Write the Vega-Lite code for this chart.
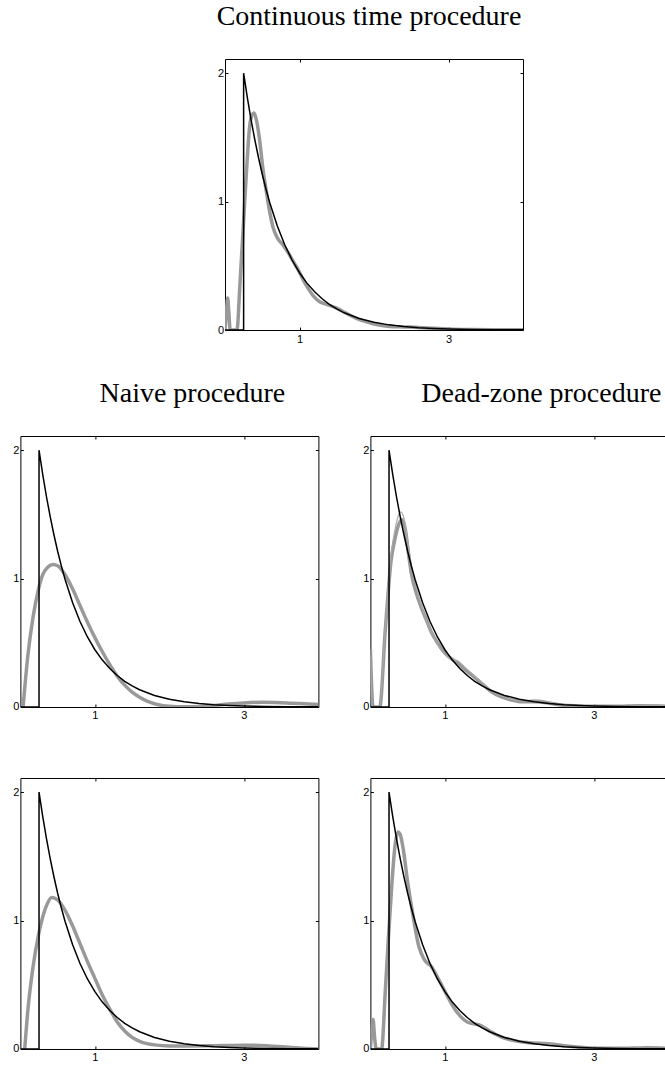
{
  "$schema": "https://vega.github.io/schema/vega-lite/v6.json",
  "background": "white",
  "padding": {"left": 11.4, "top": 2, "right": 0, "bottom": 0},
  "config": {
    "view": {"stroke": "#000", "strokeWidth": 1},
    "axis": {"grid": false, "domain": false, "ticks": true, "tickSize": -3, "tickColor": "#000", "tickWidth": 1, "labelFont": "Liberation Sans", "labelFontSize": 11, "labelColor": "#000", "format": "d"},
    "title": {"font": "Liberation Serif", "fontSize": 28, "fontWeight": "normal", "color": "#000", "frame": "group", "anchor": "middle", "baseline": "alphabetic", "offset": 28}
  },
  "datasets": {
    "black": [
      {"i": 0, "x": 0, "y": 0}, {"i": 1, "x": 0.25, "y": 0}, {"i": 2, "x": 0.25, "y": 2},
      {"i": 3, "x": 0.3, "y": 1.81}, {"i": 4, "x": 0.35, "y": 1.637}, {"i": 5, "x": 0.4, "y": 1.482},
      {"i": 6, "x": 0.45, "y": 1.341}, {"i": 7, "x": 0.5, "y": 1.213}, {"i": 8, "x": 0.55, "y": 1.098},
      {"i": 9, "x": 0.6, "y": 0.993}, {"i": 10, "x": 0.7, "y": 0.813}, {"i": 11, "x": 0.8, "y": 0.666},
      {"i": 12, "x": 0.9, "y": 0.545}, {"i": 13, "x": 1.0, "y": 0.446}, {"i": 14, "x": 1.1, "y": 0.365},
      {"i": 15, "x": 1.2, "y": 0.299}, {"i": 16, "x": 1.3, "y": 0.245}, {"i": 17, "x": 1.4, "y": 0.2},
      {"i": 18, "x": 1.5, "y": 0.164}, {"i": 19, "x": 1.6, "y": 0.134}, {"i": 20, "x": 1.8, "y": 0.09},
      {"i": 21, "x": 2.0, "y": 0.06}, {"i": 22, "x": 2.2, "y": 0.04}, {"i": 23, "x": 2.4, "y": 0.027},
      {"i": 24, "x": 2.6, "y": 0.018}, {"i": 25, "x": 2.8, "y": 0.012}, {"i": 26, "x": 3.0, "y": 0.008},
      {"i": 27, "x": 3.3, "y": 0.004}, {"i": 28, "x": 3.6, "y": 0.002}, {"i": 29, "x": 4.0, "y": 0.001}
    ],
    "gray": [
      {"p": "top", "x": 0, "y": 0}, {"p": "top", "x": 0.02, "y": 0.15}, {"p": "top", "x": 0.036, "y": 0.25}, {"p": "top", "x": 0.05, "y": 0.15}, {"p": "top", "x": 0.07, "y": 0}, {"p": "top", "x": 0.16, "y": 0}, {"p": "top", "x": 0.2, "y": 0.35}, {"p": "top", "x": 0.23, "y": 0.65}, {"p": "top", "x": 0.26, "y": 0.95}, {"p": "top", "x": 0.29, "y": 1.25}, {"p": "top", "x": 0.33, "y": 1.58}, {"p": "top", "x": 0.36, "y": 1.67}, {"p": "top", "x": 0.39, "y": 1.69}, {"p": "top", "x": 0.42, "y": 1.64}, {"p": "top", "x": 0.46, "y": 1.5}, {"p": "top", "x": 0.51, "y": 1.25}, {"p": "top", "x": 0.56, "y": 1.06}, {"p": "top", "x": 0.6, "y": 0.92}, {"p": "top", "x": 0.65, "y": 0.79}, {"p": "top", "x": 0.7, "y": 0.72}, {"p": "top", "x": 0.78, "y": 0.66}, {"p": "top", "x": 0.85, "y": 0.6}, {"p": "top", "x": 0.92, "y": 0.53}, {"p": "top", "x": 1.0, "y": 0.45}, {"p": "top", "x": 1.05, "y": 0.39}, {"p": "top", "x": 1.12, "y": 0.32}, {"p": "top", "x": 1.18, "y": 0.27}, {"p": "top", "x": 1.27, "y": 0.22}, {"p": "top", "x": 1.36, "y": 0.2}, {"p": "top", "x": 1.5, "y": 0.17}, {"p": "top", "x": 1.63, "y": 0.13}, {"p": "top", "x": 1.75, "y": 0.095}, {"p": "top", "x": 1.89, "y": 0.065}, {"p": "top", "x": 2.05, "y": 0.04}, {"p": "top", "x": 2.21, "y": 0.028}, {"p": "top", "x": 2.4, "y": 0.024}, {"p": "top", "x": 2.6, "y": 0.02}, {"p": "top", "x": 2.8, "y": 0.013}, {"p": "top", "x": 3.0, "y": 0.008}, {"p": "top", "x": 3.3, "y": 0.004}, {"p": "top", "x": 3.6, "y": 0.002}, {"p": "top", "x": 4.0, "y": 0.001},

      {"p": "naive1", "x": 0.036, "y": 0}, {"p": "naive1", "x": 0.1, "y": 0.4}, {"p": "naive1", "x": 0.17, "y": 0.7}, {"p": "naive1", "x": 0.24, "y": 0.91}, {"p": "naive1", "x": 0.3, "y": 1.03}, {"p": "naive1", "x": 0.37, "y": 1.09}, {"p": "naive1", "x": 0.44, "y": 1.11}, {"p": "naive1", "x": 0.5, "y": 1.1}, {"p": "naive1", "x": 0.6, "y": 1.03}, {"p": "naive1", "x": 0.7, "y": 0.92}, {"p": "naive1", "x": 0.8, "y": 0.79}, {"p": "naive1", "x": 0.9, "y": 0.66}, {"p": "naive1", "x": 1.0, "y": 0.54}, {"p": "naive1", "x": 1.1, "y": 0.43}, {"p": "naive1", "x": 1.2, "y": 0.33}, {"p": "naive1", "x": 1.3, "y": 0.24}, {"p": "naive1", "x": 1.4, "y": 0.17}, {"p": "naive1", "x": 1.5, "y": 0.115}, {"p": "naive1", "x": 1.6, "y": 0.075}, {"p": "naive1", "x": 1.7, "y": 0.045}, {"p": "naive1", "x": 1.8, "y": 0.025}, {"p": "naive1", "x": 1.9, "y": 0.012}, {"p": "naive1", "x": 2.0, "y": 0.005}, {"p": "naive1", "x": 2.2, "y": 0.001}, {"p": "naive1", "x": 2.4, "y": 0.003}, {"p": "naive1", "x": 2.6, "y": 0.012}, {"p": "naive1", "x": 2.8, "y": 0.024}, {"p": "naive1", "x": 3.0, "y": 0.032}, {"p": "naive1", "x": 3.25, "y": 0.037}, {"p": "naive1", "x": 3.5, "y": 0.034}, {"p": "naive1", "x": 3.75, "y": 0.027}, {"p": "naive1", "x": 4.0, "y": 0.02},

      {"p": "dead1", "x": 0, "y": 0.45}, {"p": "dead1", "x": 0.036, "y": 0}, {"p": "dead1", "x": 0.125, "y": 0}, {"p": "dead1", "x": 0.2, "y": 0.6}, {"p": "dead1", "x": 0.28, "y": 1.15}, {"p": "dead1", "x": 0.33, "y": 1.31}, {"p": "dead1", "x": 0.38, "y": 1.42}, {"p": "dead1", "x": 0.42, "y": 1.46}, {"p": "dead1", "x": 0.47, "y": 1.38}, {"p": "dead1", "x": 0.51, "y": 1.2}, {"p": "dead1", "x": 0.55, "y": 1.04}, {"p": "dead1", "x": 0.62, "y": 0.88}, {"p": "dead1", "x": 0.68, "y": 0.78}, {"p": "dead1", "x": 0.75, "y": 0.68}, {"p": "dead1", "x": 0.82, "y": 0.58}, {"p": "dead1", "x": 0.9, "y": 0.5}, {"p": "dead1", "x": 1.0, "y": 0.42}, {"p": "dead1", "x": 1.1, "y": 0.37}, {"p": "dead1", "x": 1.18, "y": 0.34}, {"p": "dead1", "x": 1.27, "y": 0.29}, {"p": "dead1", "x": 1.36, "y": 0.25}, {"p": "dead1", "x": 1.5, "y": 0.18}, {"p": "dead1", "x": 1.62, "y": 0.12}, {"p": "dead1", "x": 1.75, "y": 0.08}, {"p": "dead1", "x": 1.89, "y": 0.055}, {"p": "dead1", "x": 2.05, "y": 0.04}, {"p": "dead1", "x": 2.2, "y": 0.04}, {"p": "dead1", "x": 2.4, "y": 0.03}, {"p": "dead1", "x": 2.56, "y": 0.015}, {"p": "dead1", "x": 2.8, "y": 0.008}, {"p": "dead1", "x": 3.0, "y": 0.005}, {"p": "dead1", "x": 3.3, "y": 0.005}, {"p": "dead1", "x": 3.6, "y": 0.01}, {"p": "dead1", "x": 3.9, "y": 0.008}, {"p": "dead1", "x": 4.0, "y": 0.005},

      {"p": "dead1b", "x": 0, "y": 0.4}, {"p": "dead1b", "x": 0.03, "y": 0}, {"p": "dead1b", "x": 0.12, "y": 0}, {"p": "dead1b", "x": 0.2, "y": 0.62}, {"p": "dead1b", "x": 0.28, "y": 1.2}, {"p": "dead1b", "x": 0.33, "y": 1.38}, {"p": "dead1b", "x": 0.37, "y": 1.48}, {"p": "dead1b", "x": 0.41, "y": 1.52}, {"p": "dead1b", "x": 0.45, "y": 1.47}, {"p": "dead1b", "x": 0.5, "y": 1.3}, {"p": "dead1b", "x": 0.55, "y": 1.1}, {"p": "dead1b", "x": 0.62, "y": 0.92}, {"p": "dead1b", "x": 0.7, "y": 0.76}, {"p": "dead1b", "x": 0.8, "y": 0.6}, {"p": "dead1b", "x": 0.9, "y": 0.49}, {"p": "dead1b", "x": 1.0, "y": 0.41}, {"p": "dead1b", "x": 1.1, "y": 0.37}, {"p": "dead1b", "x": 1.17, "y": 0.36}, {"p": "dead1b", "x": 1.25, "y": 0.32}, {"p": "dead1b", "x": 1.36, "y": 0.26}, {"p": "dead1b", "x": 1.5, "y": 0.19}, {"p": "dead1b", "x": 1.62, "y": 0.13}, {"p": "dead1b", "x": 1.75, "y": 0.09}, {"p": "dead1b", "x": 1.9, "y": 0.06}, {"p": "dead1b", "x": 2.05, "y": 0.05}, {"p": "dead1b", "x": 2.2, "y": 0.055}, {"p": "dead1b", "x": 2.4, "y": 0.04}, {"p": "dead1b", "x": 2.6, "y": 0.015}, {"p": "dead1b", "x": 2.8, "y": 0.006}, {"p": "dead1b", "x": 3.0, "y": 0.004}, {"p": "dead1b", "x": 3.4, "y": 0.006}, {"p": "dead1b", "x": 3.7, "y": 0.012}, {"p": "dead1b", "x": 4.0, "y": 0.008},

      {"p": "naive2", "x": 0.058, "y": 0}, {"p": "naive2", "x": 0.1, "y": 0.3}, {"p": "naive2", "x": 0.17, "y": 0.64}, {"p": "naive2", "x": 0.24, "y": 0.88}, {"p": "naive2", "x": 0.3, "y": 1.03}, {"p": "naive2", "x": 0.36, "y": 1.13}, {"p": "naive2", "x": 0.42, "y": 1.18}, {"p": "naive2", "x": 0.5, "y": 1.16}, {"p": "naive2", "x": 0.6, "y": 1.08}, {"p": "naive2", "x": 0.7, "y": 0.96}, {"p": "naive2", "x": 0.8, "y": 0.82}, {"p": "naive2", "x": 0.9, "y": 0.68}, {"p": "naive2", "x": 1.0, "y": 0.55}, {"p": "naive2", "x": 1.1, "y": 0.42}, {"p": "naive2", "x": 1.2, "y": 0.31}, {"p": "naive2", "x": 1.3, "y": 0.21}, {"p": "naive2", "x": 1.4, "y": 0.14}, {"p": "naive2", "x": 1.5, "y": 0.09}, {"p": "naive2", "x": 1.6, "y": 0.06}, {"p": "naive2", "x": 1.7, "y": 0.042}, {"p": "naive2", "x": 1.8, "y": 0.032}, {"p": "naive2", "x": 2.0, "y": 0.024}, {"p": "naive2", "x": 2.5, "y": 0.025}, {"p": "naive2", "x": 3.0, "y": 0.03}, {"p": "naive2", "x": 3.3, "y": 0.026}, {"p": "naive2", "x": 3.6, "y": 0.014}, {"p": "naive2", "x": 3.85, "y": 0.003}, {"p": "naive2", "x": 4.0, "y": 0},

      {"p": "dead2", "x": 0, "y": 0}, {"p": "dead2", "x": 0.02, "y": 0.15}, {"p": "dead2", "x": 0.036, "y": 0.23}, {"p": "dead2", "x": 0.055, "y": 0.1}, {"p": "dead2", "x": 0.08, "y": 0}, {"p": "dead2", "x": 0.15, "y": 0}, {"p": "dead2", "x": 0.2, "y": 0.45}, {"p": "dead2", "x": 0.24, "y": 0.85}, {"p": "dead2", "x": 0.29, "y": 1.3}, {"p": "dead2", "x": 0.33, "y": 1.58}, {"p": "dead2", "x": 0.37, "y": 1.69}, {"p": "dead2", "x": 0.4, "y": 1.67}, {"p": "dead2", "x": 0.44, "y": 1.56}, {"p": "dead2", "x": 0.5, "y": 1.3}, {"p": "dead2", "x": 0.56, "y": 1.08}, {"p": "dead2", "x": 0.65, "y": 0.8}, {"p": "dead2", "x": 0.72, "y": 0.7}, {"p": "dead2", "x": 0.82, "y": 0.64}, {"p": "dead2", "x": 0.9, "y": 0.56}, {"p": "dead2", "x": 1.0, "y": 0.45}, {"p": "dead2", "x": 1.1, "y": 0.34}, {"p": "dead2", "x": 1.2, "y": 0.26}, {"p": "dead2", "x": 1.3, "y": 0.21}, {"p": "dead2", "x": 1.49, "y": 0.18}, {"p": "dead2", "x": 1.6, "y": 0.14}, {"p": "dead2", "x": 1.75, "y": 0.095}, {"p": "dead2", "x": 1.93, "y": 0.065}, {"p": "dead2", "x": 2.1, "y": 0.05}, {"p": "dead2", "x": 2.39, "y": 0.04}, {"p": "dead2", "x": 2.7, "y": 0.02}, {"p": "dead2", "x": 3.05, "y": 0.005}, {"p": "dead2", "x": 3.4, "y": 0.006}, {"p": "dead2", "x": 3.72, "y": 0.01}, {"p": "dead2", "x": 4.0, "y": 0.005}
    ]
  },
  "spacing": 55,
  "vconcat": [
    {
      "spacing": 34,
      "vconcat": [
        {
          "bounds": "flush",
          "spacing": 203.6,
          "hconcat": [
            {"width": 1, "height": 271, "view": {"stroke": null}, "data": {"values": []}, "mark": "text", "encoding": {}},
            {
              "width": 298, "height": 271,
              "title": {"text": "Continuous time procedure", "dx": -5},
              "resolve": {"axis": {"x": "independent", "y": "independent"}},
              "layer": [
                {"data": {"name": "gray"}, "transform": [{"filter": "datum.p == 'top'"}],
                 "mark": {"type": "line", "color": "#999999", "strokeWidth": 3.5, "interpolate": "monotone", "clip": true},
                 "encoding": {
                   "x": {"field": "x", "type": "quantitative", "title": null, "scale": {"domain": [0, 4], "nice": false, "zero": false}, "axis": {"values": [1, 3], "labelPadding": 6}},
                   "y": {"field": "y", "type": "quantitative", "title": null, "scale": {"domain": [0, 2.11], "nice": false}, "axis": {"values": [0, 1, 2], "labelPadding": 4.5}}}},
                {"data": {"name": "black"},
                 "mark": {"type": "line", "color": "#000", "strokeWidth": 1.5, "clip": true},
                 "encoding": {
                   "x": {"field": "x", "type": "quantitative", "title": null, "axis": {"orient": "top", "values": [1, 3], "labels": false}},
                   "y": {"field": "y", "type": "quantitative", "title": null, "axis": {"orient": "right", "values": [0, 1, 2], "labels": false}},
                   "order": {"field": "i"}}}
              ]
            }
          ]
        },
        {
          "bounds": "flush",
          "spacing": 52,
          "hconcat": [
            {
              "width": 298, "height": 271,
              "title": {"text": "Naive procedure", "dx": 23},
              "resolve": {"axis": {"x": "independent", "y": "independent"}},
              "layer": [
                {"data": {"name": "gray"}, "transform": [{"filter": "datum.p == 'naive1'"}],
                 "mark": {"type": "line", "color": "#999999", "strokeWidth": 3.5, "interpolate": "monotone", "clip": true},
                 "encoding": {
                   "x": {"field": "x", "type": "quantitative", "title": null, "scale": {"domain": [0, 4], "nice": false, "zero": false}, "axis": {"values": [1, 3], "labelPadding": 6}},
                   "y": {"field": "y", "type": "quantitative", "title": null, "scale": {"domain": [0, 2.11], "nice": false}, "axis": {"values": [0, 1, 2], "labelPadding": 4.5}}}},
                {"data": {"name": "black"},
                 "mark": {"type": "line", "color": "#000", "strokeWidth": 1.5, "clip": true},
                 "encoding": {
                   "x": {"field": "x", "type": "quantitative", "title": null, "axis": {"orient": "top", "values": [1, 3], "labels": false}},
                   "y": {"field": "y", "type": "quantitative", "title": null, "axis": {"orient": "right", "values": [0, 1, 2], "labels": false}},
                   "order": {"field": "i"}}}
              ]
            },
            {
              "width": 298, "height": 271,
              "title": {"text": "Dead-zone procedure", "dx": 22},
              "resolve": {"axis": {"x": "independent", "y": "independent"}},
              "layer": [
                {"data": {"name": "gray"}, "transform": [{"filter": "datum.p == 'dead1'"}],
                 "mark": {"type": "line", "color": "#999999", "strokeWidth": 3.5, "interpolate": "monotone", "clip": true},
                 "encoding": {
                   "x": {"field": "x", "type": "quantitative", "title": null, "scale": {"domain": [0, 4], "nice": false, "zero": false}, "axis": {"values": [1, 3], "labelPadding": 6}},
                   "y": {"field": "y", "type": "quantitative", "title": null, "scale": {"domain": [0, 2.11], "nice": false}, "axis": {"values": [0, 1, 2], "labelPadding": 4.5}}}},
                {"data": {"name": "gray"}, "transform": [{"filter": "datum.p == 'dead1b'"}],
                 "mark": {"type": "line", "color": "#a8a8a8", "strokeWidth": 1.2, "interpolate": "monotone", "clip": true},
                 "encoding": {
                   "x": {"field": "x", "type": "quantitative", "title": null, "axis": null},
                   "y": {"field": "y", "type": "quantitative", "title": null, "axis": null}}},
                {"data": {"name": "black"},
                 "mark": {"type": "line", "color": "#000", "strokeWidth": 1.5, "clip": true},
                 "encoding": {
                   "x": {"field": "x", "type": "quantitative", "title": null, "axis": {"orient": "top", "values": [1, 3], "labels": false}},
                   "y": {"field": "y", "type": "quantitative", "title": null, "axis": {"orient": "right", "values": [0, 1, 2], "labels": false}},
                   "order": {"field": "i"}}}
              ]
            }
          ]
        }
      ]
    },
    {
      "bounds": "flush",
      "spacing": 52,
      "hconcat": [
        {
          "width": 298, "height": 271,
          "resolve": {"axis": {"x": "independent", "y": "independent"}},
          "layer": [
            {"data": {"name": "gray"}, "transform": [{"filter": "datum.p == 'naive2'"}],
             "mark": {"type": "line", "color": "#999999", "strokeWidth": 3.5, "interpolate": "monotone", "clip": true},
             "encoding": {
               "x": {"field": "x", "type": "quantitative", "title": null, "scale": {"domain": [0, 4], "nice": false, "zero": false}, "axis": {"values": [1, 3], "labelPadding": 6}},
               "y": {"field": "y", "type": "quantitative", "title": null, "scale": {"domain": [0, 2.11], "nice": false}, "axis": {"values": [0, 1, 2], "labelPadding": 4.5}}}},
            {"data": {"name": "black"},
             "mark": {"type": "line", "color": "#000", "strokeWidth": 1.5, "clip": true},
             "encoding": {
               "x": {"field": "x", "type": "quantitative", "title": null, "axis": {"orient": "top", "values": [1, 3], "labels": false}},
               "y": {"field": "y", "type": "quantitative", "title": null, "axis": {"orient": "right", "values": [0, 1, 2], "labels": false}},
               "order": {"field": "i"}}}
          ]
        },
        {
          "width": 298, "height": 271,
          "resolve": {"axis": {"x": "independent", "y": "independent"}},
          "layer": [
            {"data": {"name": "gray"}, "transform": [{"filter": "datum.p == 'dead2'"}],
             "mark": {"type": "line", "color": "#999999", "strokeWidth": 3.5, "interpolate": "monotone", "clip": true},
             "encoding": {
               "x": {"field": "x", "type": "quantitative", "title": null, "scale": {"domain": [0, 4], "nice": false, "zero": false}, "axis": {"values": [1, 3], "labelPadding": 6}},
               "y": {"field": "y", "type": "quantitative", "title": null, "scale": {"domain": [0, 2.11], "nice": false}, "axis": {"values": [0, 1, 2], "labelPadding": 4.5}}}},
            {"data": {"name": "black"},
             "mark": {"type": "line", "color": "#000", "strokeWidth": 1.5, "clip": true},
             "encoding": {
               "x": {"field": "x", "type": "quantitative", "title": null, "axis": {"orient": "top", "values": [1, 3], "labels": false}},
               "y": {"field": "y", "type": "quantitative", "title": null, "axis": {"orient": "right", "values": [0, 1, 2], "labels": false}},
               "order": {"field": "i"}}}
          ]
        }
      ]
    }
  ]
}
